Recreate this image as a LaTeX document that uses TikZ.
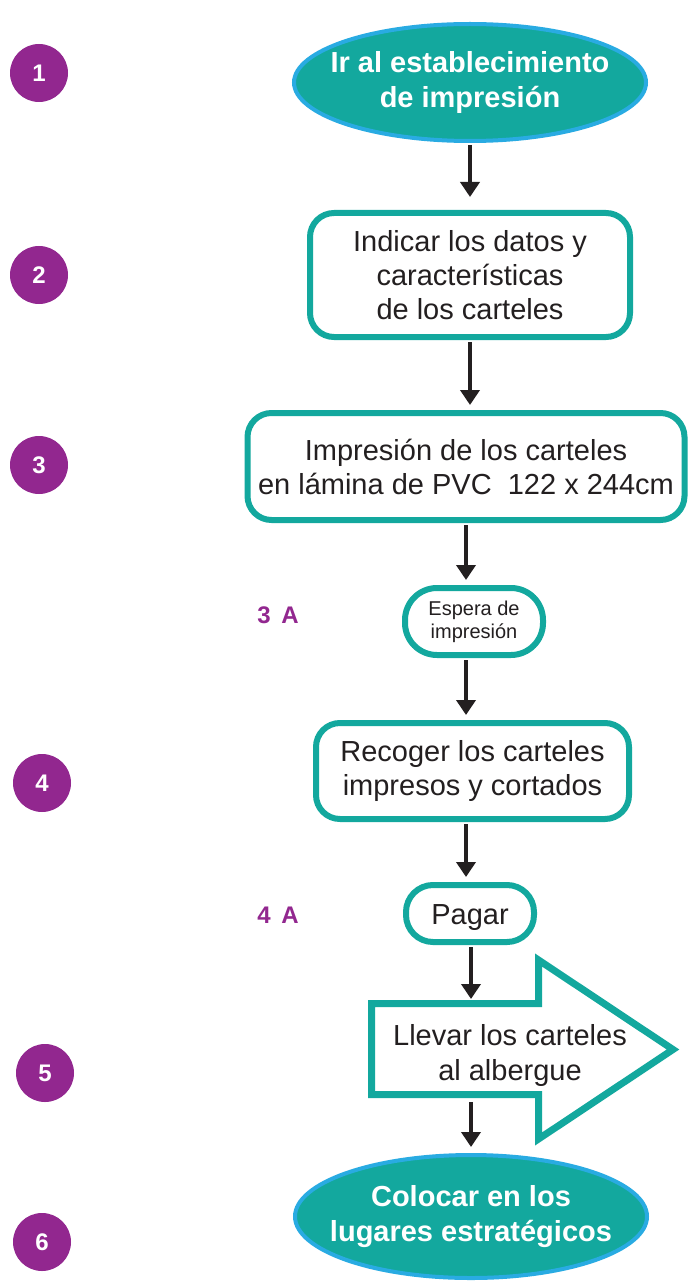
\documentclass[tikz,border=0pt]{standalone}
\usepackage{fontspec}
\setmainfont{Liberation Sans}
\usetikzlibrary{arrows.meta,positioning,shapes.geometric}
\definecolor{verde}{HTML}{13A89E}
\definecolor{celeste}{HTML}{29ABE2}
\definecolor{morado}{HTML}{92278F}
\definecolor{texto}{HTML}{231F20}

\begin{document}
\begin{tikzpicture}[x=1pt,y=-1pt,
      every node/.style={align=center,inner sep=0pt},
      extremo/.style={ellipse,draw=celeste,line width=4pt,fill=verde,
                      text=white,minimum width=352pt,minimum height=117pt,
                      inner xsep=-20pt,
                      font=\fontsize{29pt}{35pt}\selectfont\bfseries},
      caja/.style={draw=verde,line width=6pt,fill=white,text=texto,
                   rounded corners=24pt,
                   font=\fontsize{29pt}{34pt}\selectfont},
      chica/.style={caja,font=\fontsize{20pt}{23pt}\selectfont},
      paso/.style={circle,fill=morado,text=white,minimum size=58pt,
                   font=\fontsize{24pt}{28pt}\selectfont\bfseries},
      sub/.style={text=morado,font=\fontsize{24pt}{28pt}\selectfont\bfseries},
      flecha/.style={-{Triangle[length=15pt,width=19pt]},line width=4.5pt,
                     draw=texto,shorten <=2pt,shorten >=5pt}]
    \useasboundingbox (0,0) rectangle (690,1281);

    % pasos del proceso
    \node[extremo] (inicio) at (470,82.5) {Ir al establecimiento\\de impresión};
    \node[caja,below=67pt of inicio,minimum width=320pt,minimum height=124pt]
      (datos) {Indicar los datos y\\características\\de los carteles};
    \node[caja,below=70pt of datos,xshift=-4pt,minimum width=437pt,
          minimum height=107pt]
      (impresion) {Impresión de los carteles\\en lámina de PVC\ \ 122 x 244cm};
    \node[chica,below=62pt of impresion,xshift=8pt,minimum width=138pt,
          minimum height=67pt,rounded corners=32pt]
      (espera) {Espera de\\impresión};
    \node[caja,below=62pt of espera,xshift=-1.5pt,minimum width=313pt,
          minimum height=96pt]
      (recoger) {Recoger los carteles\\impresos y cortados};
    \node[caja,below=60pt of recoger,xshift=-2.5pt,minimum width=128pt,
          minimum height=57pt,rounded corners=27pt,align=none,
          text height=22pt,text depth=0pt]
      (pagar) {Pagar};

    % flecha de traslado
    \draw[verde,fill=white,line width=7pt,miter limit=10]
      (371.5,1003.5) -- (538.5,1003.5) -- (538.5,960) -- (673,1049.5)
      -- (538.5,1139) -- (538.5,1094.5) -- (371.5,1094.5) -- cycle;
    \node[text=texto,font=\fontsize{29pt}{35pt}\selectfont] (llevar)
      at (510,1055) {Llevar los carteles\\al albergue};
    \coordinate (llevartop) at (471,1000);
    \coordinate (llevarbot) at (471,1098);

    \node[extremo,below=55pt of llevarbot,minimum height=123pt]
      (fin) {Colocar en los\\lugares estratégicos};

    % numeros
    \foreach \n/\x/\y in {1/39/73,2/39/275,3/39/465,4/42/783,5/45/1073,6/42/1242}
      \node[paso] (paso\n) at (\x,\y) {\n};
    \node[sub] (sub3a) at (278,615) {3\,\ A};
    \node[sub] (sub4a) at (278,915) {4\,\ A};

    % conectores
    \draw[flecha,shorten >=13pt] (inicio) -- (datos);
    \draw[flecha] (datos.south) -- (datos.south |- impresion.north);
    \draw[flecha] (impresion.south) -- (impresion.south |- espera.north);
    \draw[flecha] (espera.south -| impresion) -- (recoger.north -| impresion);
    \draw[flecha] (recoger.south -| impresion) -- (pagar.north -| impresion);
    \draw[flecha,shorten >=1pt] (pagar.south -| llevartop) -- (llevartop);
    \draw[flecha,shorten >=6pt,shorten <=4pt] (llevarbot) -- (fin.north);
  \end{tikzpicture}
\end{document}
